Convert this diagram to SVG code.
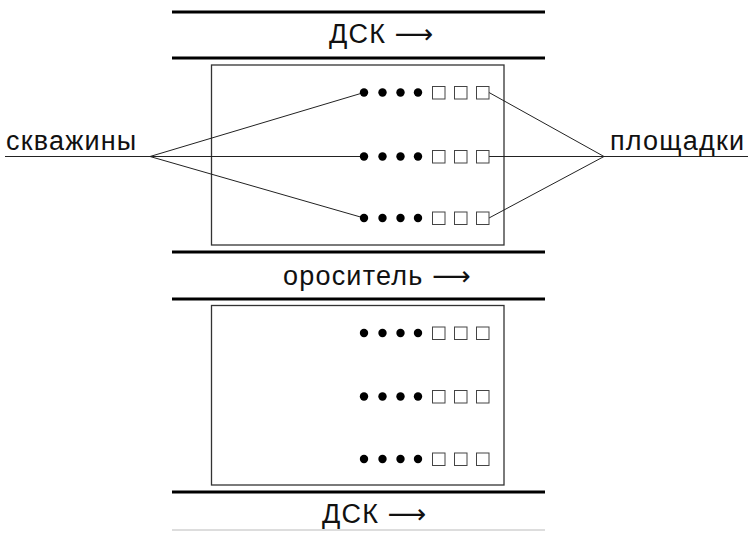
<svg xmlns="http://www.w3.org/2000/svg" width="748" height="537" viewBox="0 0 748 537">
<style>
.thick{stroke:#000;stroke-width:3.2;fill:none}
.box{fill:#fff;stroke:#333;stroke-width:1.3}
.conn{stroke:#222;stroke-width:1;fill:none}
.dot{fill:#000}
.sq{fill:#fff;stroke:#444;stroke-width:1}
.lbl{font-family:"Liberation Sans","DejaVu Sans",sans-serif;font-size:27px;letter-spacing:1.2px;fill:#111}
</style>
<defs>
<g id="row">
<circle class="dot" cx="364" cy="0" r="4.2"/>
<circle class="dot" cx="382.5" cy="0" r="4.2"/>
<circle class="dot" cx="400.5" cy="0" r="4.2"/>
<circle class="dot" cx="418" cy="0" r="4.2"/>
<rect class="sq" x="432.5" y="-6" width="12.5" height="12.5"/>
<rect class="sq" x="454.5" y="-6" width="12.5" height="12.5"/>
<rect class="sq" x="476.5" y="-6" width="12.5" height="12.5"/>
</g>
</defs>
<g id="bands">
<line class="thick" x1="172" y1="12" x2="545" y2="12"/>
<line class="thick" x1="172" y1="58" x2="545" y2="58"/>
<line class="thick" x1="172" y1="252" x2="545" y2="252"/>
<line class="thick" x1="172" y1="299" x2="545" y2="299"/>
<line class="thick" x1="172" y1="492" x2="545" y2="492"/>
<line x1="172" y1="530" x2="545" y2="530" stroke="#bbb" stroke-width="1"/>
<text class="lbl" x="329" y="43">ДСК ⟶</text>
<text class="lbl" x="283" y="285">ороситель ⟶</text>
<text class="lbl" x="322" y="523">ДСК ⟶</text>
</g>
<g id="block1">
<rect class="box" x="211.5" y="65" width="292.5" height="180"/>
</g>
<g id="block2">
<rect class="box" x="211.5" y="305.5" width="292.5" height="179.5"/>
<use href="#row" y="333"/>
<use href="#row" y="396.5"/>
<use href="#row" y="459"/>
</g>
<g id="connectors">
<line class="conn" x1="5" y1="156.5" x2="150" y2="156.5"/>
<line class="conn" x1="150" y1="156.5" x2="364" y2="92.5"/>
<line class="conn" x1="150" y1="156.5" x2="364" y2="156.5"/>
<line class="conn" x1="150" y1="156.5" x2="364" y2="218"/>
<line class="conn" x1="489" y1="92.5" x2="604" y2="156.5"/>
<line class="conn" x1="489" y1="156.5" x2="604" y2="156.5"/>
<line class="conn" x1="489" y1="218" x2="604" y2="156.5"/>
<line class="conn" x1="604" y1="156.5" x2="748" y2="156.5"/>
</g>
<g id="rows1">
<use href="#row" y="92.5"/>
<use href="#row" y="156.5"/>
<use href="#row" y="218"/>
</g>
<g id="labels">
<text class="lbl" x="6" y="150">скважины</text>
<text class="lbl" x="610" y="150">площадки</text>
</g>
</svg>
